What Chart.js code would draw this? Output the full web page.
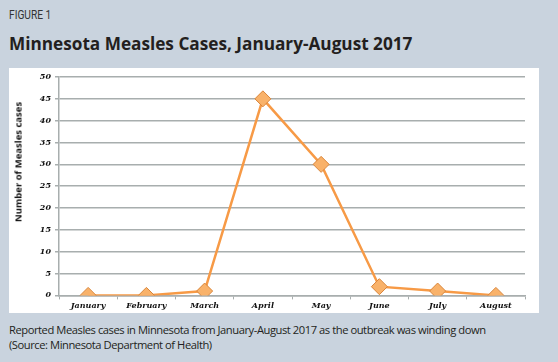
<!DOCTYPE html>
<html>
<head>
<meta charset="utf-8">
<script src="https://cdn.jsdelivr.net/npm/chart.js@4"></script>
<style>
  html, body { margin: 0; padding: 0; }
  body { width: 558px; height: 362px; background: #c9d3de; position: relative; overflow: hidden; font-family: "Open Sans", sans-serif; }
  #fig { position: absolute; left: 9px; top: 8px; font-size: 12px; color: #333; font-family: "Liberation Sans Narrow", "Roboto", sans-serif; transform: scaleX(0.85); transform-origin: left; }
  #title { position: absolute; left: 9px; top: 32px; font-size: 17.2px; font-weight: bold; color: #231f20; font-family: "Open Sans", sans-serif; white-space: nowrap; }
  #panel { position: absolute; left: 9px; top: 68px; width: 530px; height: 245px; background: #fff; }
  #ytitle { position: absolute; left: 18px; top: 162px; font-size: 9.5px; font-weight: bold; color: #111; font-family: "Open Sans", sans-serif; white-space: nowrap; transform: translate(-50%, -50%) rotate(-90deg); }
  #caption { position: absolute; left: 9px; top: 322px; font-size: 11.2px; line-height: 15px; color: #231f20; font-family: "Open Sans", sans-serif; letter-spacing: -0.45px; white-space: nowrap; }
</style>
</head>
<body>
<div id="fig">FIGURE 1</div>
<div id="title">Minnesota Measles Cases, January-August 2017</div>
<div id="panel"><canvas id="chart" width="530" height="245"></canvas></div>
<div id="ytitle">Number of Measles cases</div>
<div id="caption">Reported Measles cases in Minnesota from January-August 2017 as the outbreak was winding down<br>(Source: Minnesota Department of Health)</div>
<script>
const months = ["January", "February", "March", "April", "May", "June", "July", "August"];
const cases = [0, 0, 1, 45, 30, 2, 1, 0];
const yTicks = [0, 5, 10, 15, 20, 25, 30, 35, 40, 45, 50];

const tickFont = { family: "DejaVu Serif", size: 8, style: "italic", weight: "bold" };

new Chart(document.getElementById("chart").getContext("2d"), {
  type: "line",
  data: {
    labels: months,
    datasets: [{
      label: "Cases",
      data: cases,
      borderColor: "#f79a46",
      borderWidth: 2.5,
      pointStyle: "rectRot",
      pointRadius: 8,
      pointBackgroundColor: "#f9b26a",
      pointBorderColor: "#d9853a",
      pointBorderWidth: 1,
      tension: 0,
    }],
  },
  options: {
    responsive: false,
    animation: false,
    layout: { padding: { top: 5, right: 14, left: 0, bottom: 0 } },
    plugins: {
      legend: { display: false },
      tooltip: { enabled: false },
    },
    scales: {
      x: {
        offset: true,
        grid: { offset: true, drawOnChartArea: false, tickLength: 4, color: "#a8aeae" },
        border: { color: "#a8aeae", width: 1.5 },
        ticks: { color: "#111", font: tickFont, padding: 2, maxRotation: 0 },
      },
      y: {
        min: 0,
        max: 50,
        afterBuildTicks: (axis) => { axis.ticks = yTicks.map((v) => ({ value: v })); },
        afterFit: (axis) => { axis.width = 50; },
        grid: { color: "#a8aeae", lineWidth: 1.5, tickLength: 4 },
        border: { color: "#a8aeae", width: 1.5 },
        ticks: { color: "#111", font: tickFont, padding: 4 },
      },
    },
  },
});
</script>
</body>
</html>
